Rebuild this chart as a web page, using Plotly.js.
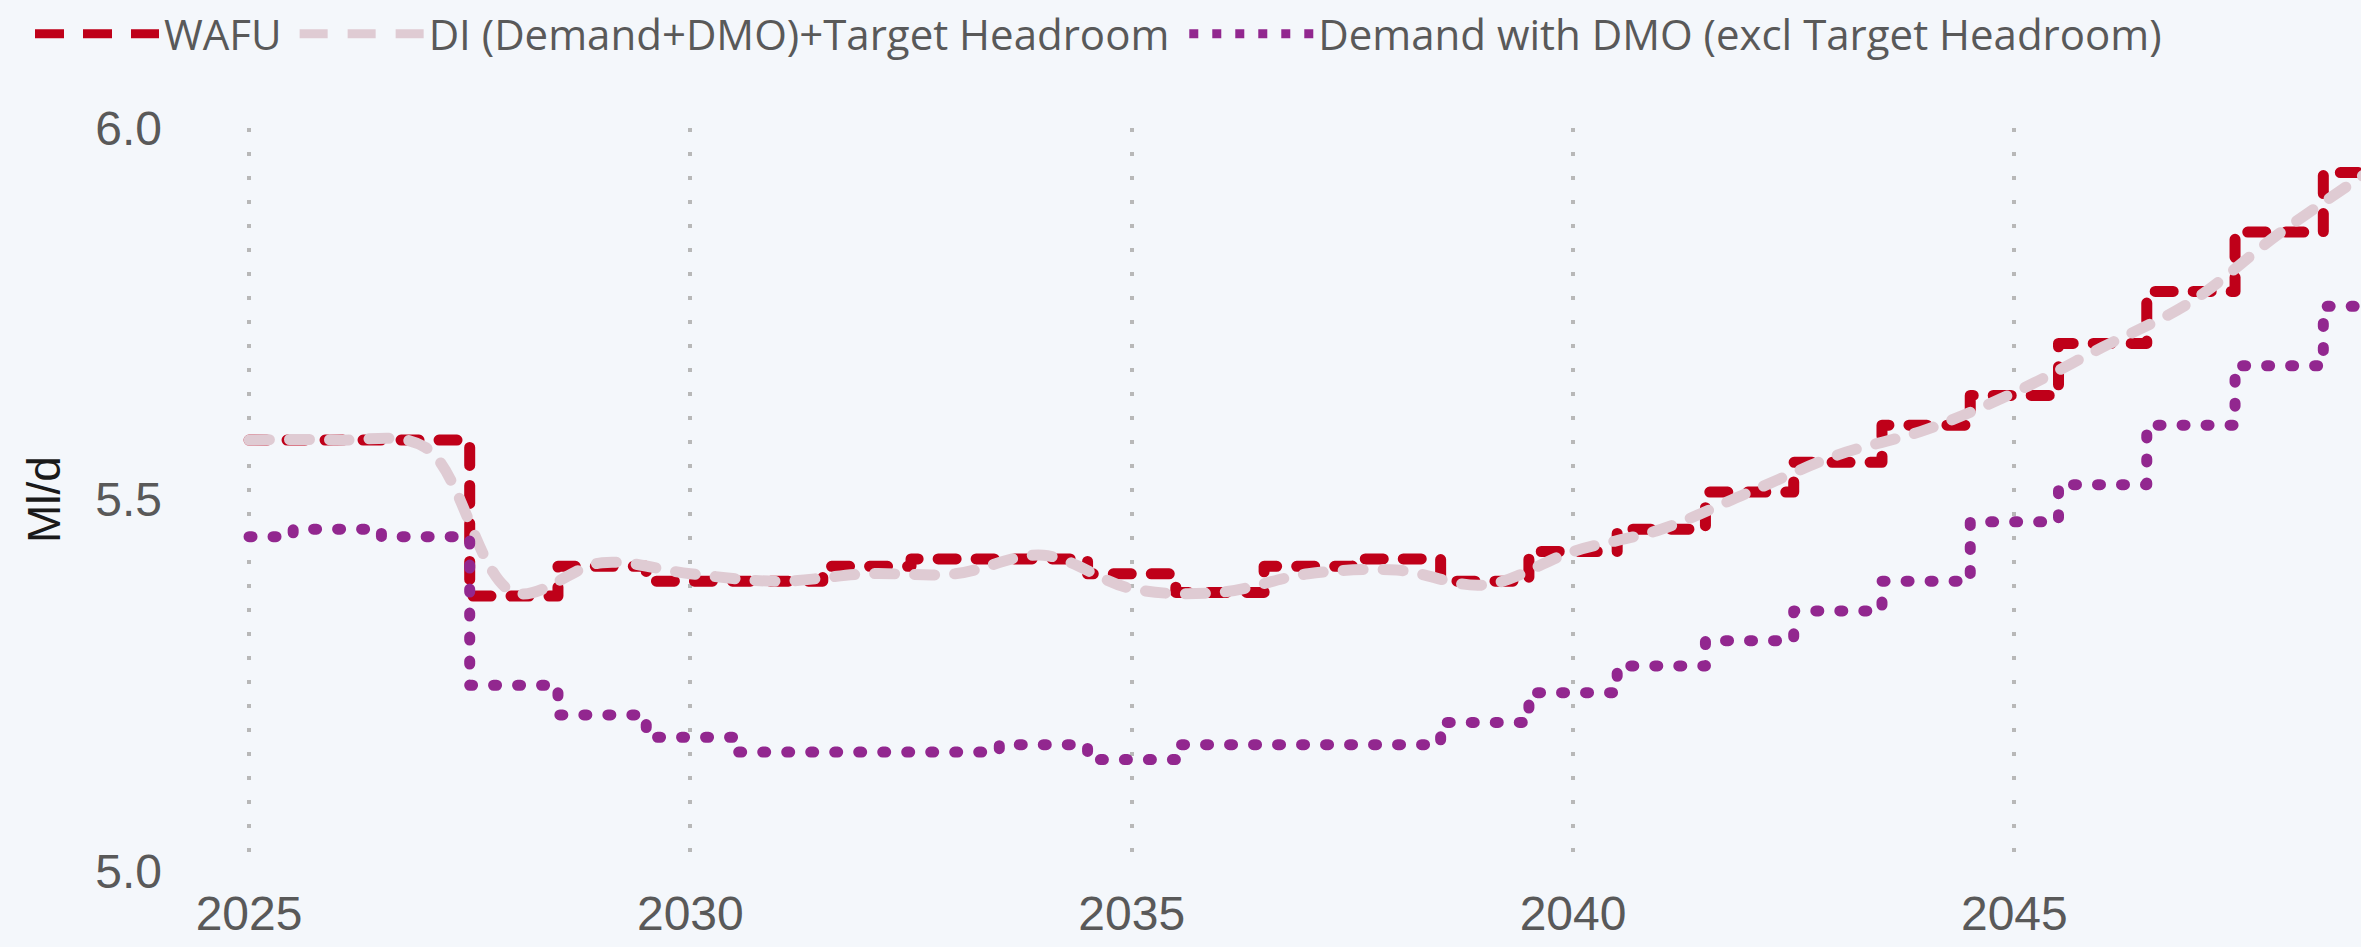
<!DOCTYPE html>
<html>
<head>
<meta charset="utf-8">
<script src="https://cdn.plot.ly/plotly-3.0.1.min.js"></script>
<style>
  html, body { margin: 0; padding: 0; background: #F4F7FB; }
  #chart { width: 2361px; height: 947px; }
  .scatterlayer .js-line { stroke-linecap: round; stroke-linejoin: round; }
</style>
</head>
<body>
<div id="chart"></div>
<script>
// Years (one value per year)
const years = [2025, 2026, 2027, 2028, 2029, 2030, 2031, 2032, 2033, 2034, 2035, 2036, 2037,
               2038, 2039, 2040, 2041, 2042, 2043, 2044, 2045, 2046, 2047, 2048, 2049];

// WAFU (Ml/d)
const wafu = [5.58, 5.58, 5.58, 5.37, 5.41, 5.39, 5.39, 5.41, 5.42, 5.42, 5.40, 5.375, 5.41,
              5.42, 5.39, 5.43, 5.46, 5.51, 5.55, 5.60, 5.64, 5.71, 5.78, 5.86, 5.94];

// DI (Demand+DMO)+Target Headroom (Ml/d)
const diTarget = [5.58, 5.58, 5.57, 5.375, 5.415, 5.40, 5.39, 5.40, 5.40, 5.425, 5.38, 5.375, 5.40,
                  5.405, 5.385, 5.43, 5.46, 5.51, 5.56, 5.594, 5.644, 5.705, 5.766, 5.858, 5.94];

// Demand with DMO (excl Target Headroom) (Ml/d)
const demandDmo = [5.45, 5.46, 5.45, 5.25, 5.21, 5.18, 5.16, 5.16, 5.16, 5.17, 5.15, 5.17, 5.17,
                   5.17, 5.20, 5.24, 5.276, 5.31, 5.35, 5.39, 5.47, 5.52, 5.60, 5.68, 5.76];

const seriesNames = ['WAFU', 'DI (Demand+DMO)+Target Headroom', 'Demand with DMO (excl Target Headroom)'];
const xTickVals = [2025, 2030, 2035, 2040, 2045];
const yTickVals = [5.0, 5.5, 6.0];

const traces = [
  { x: years, y: wafu, name: seriesNames[0], type: 'scatter', mode: 'lines',
    line: { color: '#BF0019', width: 11, dash: '18px,20px', shape: 'hvh' } },
  { x: years, y: diTarget, name: seriesNames[1], type: 'scatter', mode: 'lines',
    line: { color: '#DFCBD3', width: 11, dash: '20px,20px', shape: 'spline', smoothing: 1 } },
  { x: years, y: demandDmo, name: seriesNames[2], type: 'scatter', mode: 'lines',
    line: { color: '#92278F', width: 11, dash: '3px,21px', shape: 'hvh' } }
];

const axisFont = { family: 'Liberation Sans, Arial, sans-serif', size: 48, color: '#595959' };

const layout = {
  width: 2361, height: 947,
  paper_bgcolor: '#F4F7FB', plot_bgcolor: '#F4F7FB',
  margin: { l: 180, r: 0, t: 128, b: 76, pad: 0 },
  showlegend: true,
  legend: {
    orientation: 'h', xref: 'container', yref: 'container',
    x: 30 / 2361, y: 1.0, xanchor: 'left', yanchor: 'top',
    itemwidth: 124, tracegroupgap: 0,
    font: { family: 'Open Sans, sans-serif', size: 42, color: '#595959' },
    bgcolor: 'rgba(0,0,0,0)'
  },
  xaxis: {
    range: [2024.218, 2048.927], tickvals: xTickVals, tickformat: 'd',
    showgrid: true, gridcolor: '#B8B8B8', gridwidth: 4, griddash: '4px,20px',
    zeroline: false, showline: false, ticks: '', ticklabelstandoff: 10,
    tickfont: axisFont
  },
  yaxis: {
    range: [5.0, 6.0], tickvals: yTickVals, tickformat: '.1f',
    showgrid: false, zeroline: false, showline: false, ticks: '', ticklabelstandoff: 17,
    tickfont: axisFont,
    title: { text: 'Ml/d', font: { family: 'Liberation Sans, Arial, sans-serif', size: 46, color: '#1A1A1A' }, standoff: 20 }
  }
};

// legend sample styling (visual only)
const legendDash = ['29px,19px', '28px,20px', '9px,14px'];
const legendShift = [0, 8, 18];

Plotly.newPlot('chart', traces, layout, { displayModeBar: false, staticPlot: true }).then(function (gd) {
  gd.querySelectorAll('.legend [clip-path]').forEach(function (el) { el.removeAttribute('clip-path'); });
  const items = gd.querySelectorAll('.legend .traces');
  items.forEach(function (g, i) {
    const t = g.getAttribute('transform') || '';
    const m = t.match(/translate\(\s*([-\d.]+)[ ,]+([-\d.]+)\s*\)/);
    if (m) {
      const nx = parseFloat(m[1]) + legendShift[i];
      g.setAttribute('transform', 'translate(' + nx + ',' + m[2] + ')');
    }
    const p = g.querySelector('.js-line');
    if (p) {
      p.style.strokeDasharray = legendDash[i];
      p.style.strokeWidth = '9px';
    }
  });
});
</script>
</body>
</html>
